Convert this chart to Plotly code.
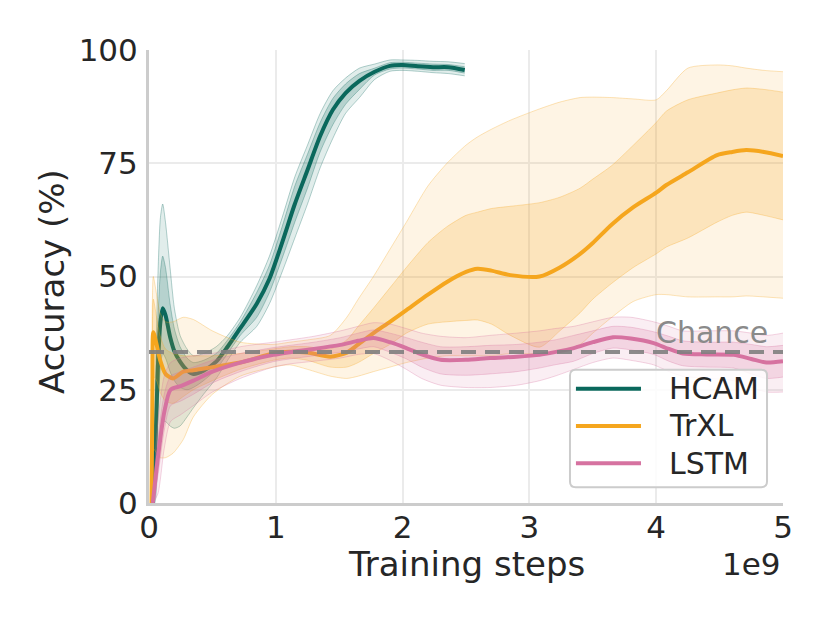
import plotly.graph_objects as go

# ---- data (x in units of 1e9 training steps, y in %) ----
hcam_x = [0.03, 0.045, 0.07, 0.09, 0.108, 0.13, 0.166, 0.2, 0.245, 0.3, 0.35, 0.43, 0.53, 0.62, 0.72,
          0.85, 0.95, 1.05, 1.15, 1.25, 1.35, 1.45, 1.55, 1.66, 1.78, 1.9, 2.0, 2.12, 2.24, 2.36, 2.49]
hcam_mean = [0, 8, 30, 40, 43, 41.5, 36.7, 33.5, 31.2, 29.3, 28.5, 29.2, 31.2, 34.5, 38.6,
             44, 49.5, 57.5, 66, 73.5, 81, 86.8, 90.5, 93.2, 95.2, 96.5, 96.7, 96.4, 96.2, 96.2, 95.6]
hcam_hi = [0, 14, 40, 51, 54.5, 52, 44, 38.5, 34.5, 32, 31, 31.5, 33, 36, 40,
           46.5, 52.5, 61, 70, 77, 84, 89.3, 92.5, 94.8, 96, 97.2, 97.3, 97.1, 96.9, 96.8, 96.3]
hcam_lo = [0, 3, 20, 30, 33, 32, 29, 27, 25.5, 25, 25.5, 27, 29.5, 33, 37,
           41, 46.5, 54, 62, 69.5, 77.5, 83.5, 88, 91.3, 94.5, 95.8, 96, 95.8, 95.5, 95.5, 94.9]
hcam_max = [0, 20, 50, 63, 66, 62, 52, 43, 37, 34, 32.5, 33, 34.5, 37, 41,
            48, 54.5, 63, 72, 79, 86, 91, 93.8, 96, 96.9, 97.8, 97.8, 97.7, 97.5, 97.4, 97]
hcam_min = [0, 0, 10, 16, 18, 18, 17, 16.5, 17, 19, 21, 24, 27.5, 31.5, 35.5,
            39, 44, 51, 58.5, 66, 74, 80.5, 86, 89.5, 93.5, 95.3, 95.5, 95.3, 95, 94.8, 94.3]

trxl_x = [0.02, 0.027, 0.034, 0.06, 0.087, 0.13, 0.19, 0.27, 0.35, 0.5, 0.72, 0.98, 1.11, 1.25,
          1.43, 1.56, 1.65, 1.77, 1.9, 2.03, 2.2, 2.35, 2.5, 2.59, 2.7, 2.85, 3.08, 3.24, 3.4,
          3.5, 3.65, 3.82, 4.0, 4.08, 4.25, 4.48, 4.6, 4.71, 4.85, 5.0]
trxl_mean = [0, 25, 37.7, 35, 31.6, 28.5, 27.5, 29, 29.3, 30, 31, 33, 33.4, 33.2,
             32.3, 33.2, 35, 37.5, 40, 42.6, 46, 48.8, 51, 51.7, 51.3, 50.3, 50, 52, 55,
             57.4, 61.5, 65.3, 68.5, 70.2, 73, 76.8, 77.5, 77.9, 77.5, 76.6]
trxl_hi = [0, 35, 45, 41, 37, 34, 33, 32.5, 32.5, 32.5, 33, 34, 34.5, 34.5,
           34, 36, 39, 43, 47.5, 52, 57.5, 61, 63.5, 64.2, 65, 65.5, 66.3, 67.5, 69.5,
           71.5, 74.5, 79, 84, 86.5, 89, 90.5, 91.2, 91.6, 91.3, 90.7]
trxl_lo = [0, 15, 28, 27, 24.5, 22.5, 22, 23.5, 25, 27, 29.5, 31.5, 32, 31.5,
           30, 30, 31, 33, 35, 37.5, 39.5, 40, 40.3, 40.4, 39.5, 37, 34.4, 38, 42,
           45, 48.5, 52, 55, 56.5, 58.5, 62, 63.5, 64.2, 63.5, 62.5]
trxl_max = [0, 45, 50, 46, 42, 40, 40, 41, 40.5, 38, 35.5, 35, 35.5, 36,
            37, 41, 45, 50, 56, 62, 70, 75, 79, 80.8, 82.5, 84.5, 87, 88.5, 89.5,
            89.6, 89.5, 89.2, 89, 91, 96, 96.7, 96.5, 96, 95.5, 95.2]
trxl_min = [0, 3, 12, 11, 10, 10, 11, 14, 19, 24, 28, 30, 30.5, 29.5,
            28, 27.5, 28, 29, 30, 31, 32, 32.5, 32.5, 32.5, 32.5, 33, 33, 33.5, 35,
            37.5, 41, 44.5, 46, 46, 45.5, 45.5, 45.5, 45.7, 45.5, 45.2]

lstm_x = [0.03, 0.07, 0.12, 0.17, 0.25, 0.35, 0.5, 0.72, 0.98, 1.11, 1.3, 1.51, 1.65, 1.77, 1.9,
          2.03, 2.15, 2.3, 2.5, 2.69, 2.9, 3.08, 3.2, 3.35, 3.5, 3.66, 3.8, 3.98, 4.1, 4.21,
          4.4, 4.61, 4.75, 4.87, 5.0]
lstm_mean = [0, 10, 20, 25, 25.8, 27, 29, 31, 32.7, 33.3, 34, 34.9, 35.8, 36.4, 35.5,
             34.2, 32.8, 31.6, 31.6, 32, 32.3, 32.7, 33.3, 34.2, 35.5, 36.6, 36.3, 35.3, 34, 33,
             32.8, 32.7, 31.8, 31, 31.3]
lstm_hi = [0, 14, 24, 28, 29, 30, 31.5, 33, 34.3, 34.8, 35.5, 36.5, 37.5, 38.2, 37.5,
           36.5, 35.5, 34.5, 34.5, 34.8, 35, 35.5, 36, 37, 38, 39, 38.8, 37.8, 36.8, 35.8,
           35.5, 35.5, 35, 34.5, 34.8]
lstm_lo = [0, 6, 16, 21.5, 22.5, 24, 26.5, 29, 31.2, 31.8, 32.5, 33.3, 34, 34.5, 33.3,
           31.8, 30, 28.5, 28.2, 28.5, 29, 29.8, 30.5, 31.3, 33, 34.2, 33.8, 32.8, 31.3, 30.3,
           30, 29.8, 28.5, 27.5, 27.8]
lstm_max = [0, 18, 28, 31, 32, 32.5, 33, 34.5, 35.5, 36, 36.8, 38, 39, 39.8, 39.5,
            38.5, 37.5, 36.8, 36.5, 37, 37.5, 38, 38.5, 39, 40, 41, 41, 40, 39, 38,
            38, 38, 37.5, 37, 37.5]
lstm_min = [0, 2, 12, 18, 19.5, 21.5, 24.5, 27.5, 30, 30.7, 31.3, 32, 32.8, 33, 31.5,
            29.5, 27.5, 26, 25.5, 25.5, 26, 27, 28, 29.5, 31, 32, 31.5, 30.5, 29, 28,
            27.5, 27, 25.5, 24.5, 24.5]

chance = 100 / 3
x_ticks = [0, 1, 2, 3, 4, 5]
y_ticks = [0, 25, 50, 75, 100]

series = [
    ('HCAM', (10, 104, 92), hcam_x, hcam_mean, hcam_lo, hcam_hi, hcam_min, hcam_max),
    ('TrXL', (245, 166, 30), trxl_x, trxl_mean, trxl_lo, trxl_hi, trxl_min, trxl_max),
    ('LSTM', (214, 114, 160), lstm_x, lstm_mean, lstm_lo, lstm_hi, lstm_min, lstm_max),
]

FONT = 'DejaVu Sans'
TXT = '#262626'


def rgba(c, a):
    return f'rgba({c[0]},{c[1]},{c[2]},{a})'


fig = go.Figure()

for name, col, xs, mean, lo, hi, mn, mx in series:
    # outer (min/max) and inner bands
    for low, high, alpha in [(mn, mx, 0.12), (lo, hi, 0.2)]:
        fig.add_trace(go.Scatter(x=xs, y=low, mode='lines', showlegend=False, hoverinfo='skip',
                                 line=dict(color=rgba(col, 0.3), width=1, shape='spline', smoothing=0.7)))
        fig.add_trace(go.Scatter(x=xs, y=high, mode='lines', showlegend=False, hoverinfo='skip',
                                 fill='tonexty', fillcolor=rgba(col, alpha),
                                 line=dict(color=rgba(col, 0.3), width=1, shape='spline', smoothing=0.7)))
    fig.add_trace(go.Scatter(x=xs, y=mean, mode='lines', name=name, showlegend=False,
                             line=dict(color=rgba(col, 1), width=4, shape='spline', smoothing=0.7)))

# chance level
fig.add_trace(go.Scatter(x=[x_ticks[0], x_ticks[-1]], y=[chance, chance], mode='lines',
                         showlegend=False, hoverinfo='skip',
                         line=dict(color='rgba(128,128,128,0.9)', width=4, dash='15px,9px')))
fig.add_annotation(x=4.9, y=chance + 4.4, xref='x', yref='y', text='Chance', showarrow=False,
                   xanchor='right', yanchor='middle', font=dict(family=FONT, size=30, color='#8a8a8a'))

# legend box drawn by hand (matplotlib-like)
bx0, bx1, by0, by1 = 3.32, 4.874, 3.5, 29.4
rx, ry = 0.045, 1.25
fig.add_shape(type='path', xref='x', yref='y', layer='above',
              path=(f'M {bx0 + rx},{by0} L {bx1 - rx},{by0} Q {bx1},{by0} {bx1},{by0 + ry} '
                    f'L {bx1},{by1 - ry} Q {bx1},{by1} {bx1 - rx},{by1} '
                    f'L {bx0 + rx},{by1} Q {bx0},{by1} {bx0},{by1 - ry} '
                    f'L {bx0},{by0 + ry} Q {bx0},{by0} {bx0 + rx},{by0} Z'),
              line=dict(color='#cccccc', width=2), fillcolor='rgba(255,255,255,0.85)')
for i, (name, col, *_) in enumerate(series):
    ly = 25.2 - i * 8.2
    fig.add_shape(type='line', xref='x', yref='y', layer='above', x0=3.367, x1=3.88, y0=ly, y1=ly,
                  line=dict(color=rgba(col, 1), width=4))
    fig.add_annotation(x=4.085, y=ly, xref='x', yref='y', text=name, showarrow=False,
                       xanchor='left', yanchor='middle', font=dict(family=FONT, size=30, color=TXT))

# axis titles
fig.add_annotation(x=0.5, y=-0.135, xref='paper', yref='paper', text='Training steps', showarrow=False,
                   xanchor='center', yanchor='middle', font=dict(family=FONT, size=34, color=TXT))
fig.add_annotation(x=1.0, y=-0.135, xref='paper', yref='paper', text='1e9', showarrow=False,
                   xanchor='right', yanchor='middle', font=dict(family=FONT, size=31, color=TXT))
fig.add_annotation(x=-0.153, y=0.49, xref='paper', yref='paper', text='Accuracy (%)', showarrow=False,
                   textangle=-90, xanchor='center', yanchor='middle',
                   font=dict(family=FONT, size=34, color=TXT))

fig.update_xaxes(range=[x_ticks[0], x_ticks[-1]], tickvals=x_ticks, showgrid=True, gridcolor='#ebebeb',
                 gridwidth=1.5, zeroline=False, showline=True, linecolor='#cccccc', linewidth=3,
                 ticks='', ticklabelstandoff=-5, automargin=False,
                 tickfont=dict(family=FONT, size=31, color=TXT))
fig.update_yaxes(range=[y_ticks[0], y_ticks[-1]], tickvals=y_ticks, showgrid=True, gridcolor='#ebebeb',
                 gridwidth=1.5, zeroline=False, showline=True, linecolor='#cccccc', linewidth=3,
                 ticks='', ticklabelstandoff=2, automargin=False,
                 tickfont=dict(family=FONT, size=31, color=TXT))

# page body adds an 8px offset, so the figure is a little smaller than the window
fig.update_layout(
    width=822, height=615,
    margin=dict(l=141, r=47, t=42, b=120, autoexpand=False),
    plot_bgcolor='white', paper_bgcolor='white',
    showlegend=False,
)

fig.write_html('out.html')
